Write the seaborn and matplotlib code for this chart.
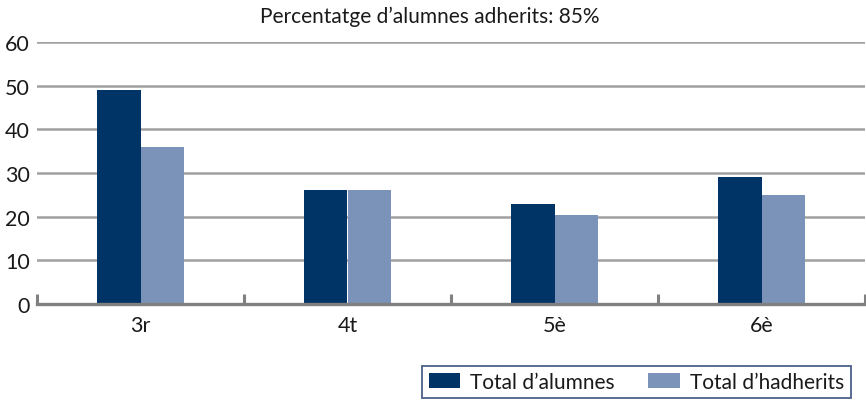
import matplotlib
matplotlib.use("Agg")
import matplotlib.pyplot as plt
import seaborn as sns
import pandas as pd

categories = ["3r", "4t", "5è", "6è"]
total_alumnes = [49, 26, 23, 29]
total_adherits = [36, 26, 20.3, 25]
series_names = ["Total d\u2019alumnes", "Total d\u2019hadherits"]
y_ticks = [0, 10, 20, 30, 40, 50, 60]
title = "Percentatge d\u2019alumnes adherits: 85%"

df = pd.DataFrame({
    "cat": categories * 2,
    "val": total_alumnes + total_adherits,
    "serie": [series_names[0]] * 4 + [series_names[1]] * 4,
})

sns.set_theme(style="white")
plt.rcParams["font.family"] = ["Lato", "DejaVu Sans"]

fig = plt.figure(figsize=(8.66, 4.02), dpi=100)
ax = fig.add_axes([37 / 866, 1 - 305 / 402, (865 - 37) / 866, (305 - 43) / 402])

sns.barplot(data=df, x="cat", y="val", hue="serie", order=categories,
            hue_order=series_names, palette=["#003366", "#7b93b8"],
            width=0.42, saturation=1, ax=ax, legend=True, zorder=3, linewidth=0)

ax.set_xlim(-0.5, 3.5)
ax.set_ylim(0, 60)
ax.set_yticks(y_ticks)
ax.set_yticklabels([str(t) for t in y_ticks], fontsize=15.5, color="#1a1a1a")
ax.tick_params(axis="y", length=0, pad=5)
ax.tick_params(axis="x", which="major", length=0, pad=8, labelsize=15.5, labelcolor="#1a1a1a")
ax.set_xticks([-0.5, 0.5, 1.5, 2.5, 3.5], minor=True)
ax.tick_params(axis="x", which="minor", bottom=True, direction="in", length=7, width=2.2, color="#808080")
ax.set_xlabel("")
ax.set_ylabel("")

for yv in y_ticks[1:]:
    ax.axhline(yv, color="#a0a0a0", linewidth=1.8, zorder=1)

for s in ["top", "right", "left"]:
    ax.spines[s].set_visible(False)
ax.spines["bottom"].set_color("#808080")
ax.spines["bottom"].set_linewidth(2.4)
ax.spines["bottom"].set_zorder(4)

handles, labels = ax.get_legend_handles_labels()
ax.get_legend().remove()
leg = fig.legend(handles, labels, loc="center", bbox_to_anchor=(636.5 / 866, 1 - 383 / 402),
                 ncol=2, fontsize=15, frameon=True, fancybox=False,
                 handlelength=1.5, handleheight=0.7, handletextpad=0.5,
                 columnspacing=1.6, borderpad=0.3, borderaxespad=0)
leg.get_frame().set_edgecolor("#1f3a6e")
leg.get_frame().set_linewidth(1.3)
for t in leg.get_texts():
    t.set_color("#1a1a1a")

fig.text(430 / 866, 1 - 17 / 402, title, ha="center", va="center", fontsize=15, color="#1a1a1a")

fig.savefig("out.png", dpi=100)
